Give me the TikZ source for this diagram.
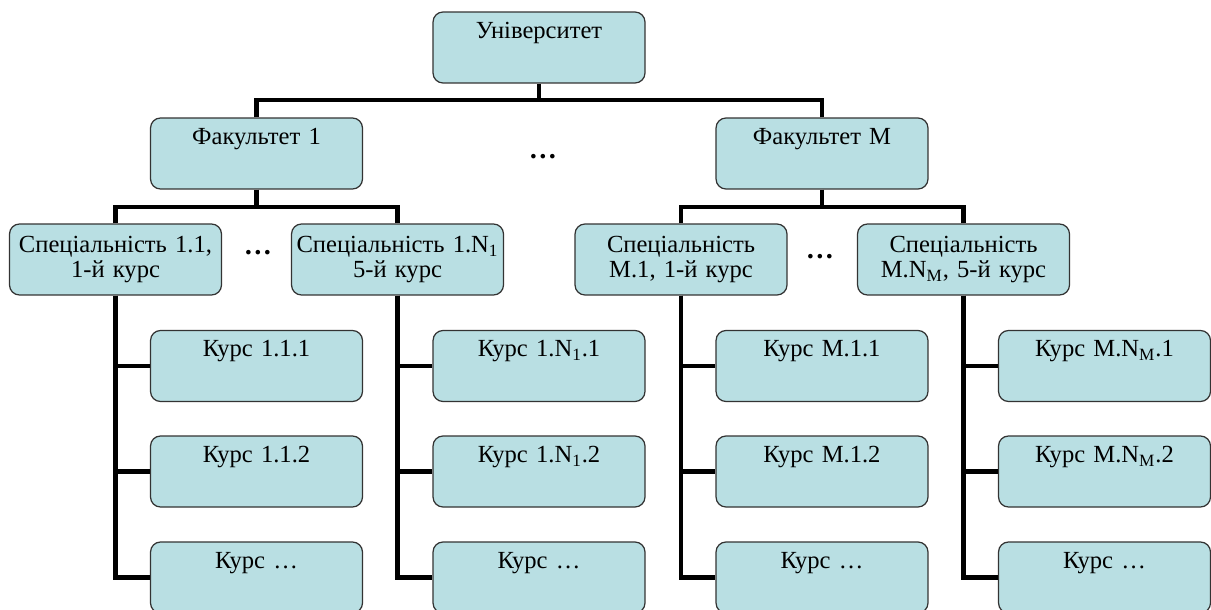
\documentclass[tikz,border=0pt]{standalone}
\usepackage{fontspec}
\setmainfont{Liberation Serif}
\definecolor{boxfill}{RGB}{185,223,227}
\tikzset{
  unit/.style={draw=black!80, fill=boxfill, rounded corners=0.2cm, line width=0.7pt,
    minimum width=4.24cm, minimum height=1.42cm, text width=4.16cm, inner sep=0pt,
    align=center, font=\fontsize{14}{14.5}\selectfont},
  gap/.style={font=\fontsize{16}{18}\selectfont\bfseries},
  link/.style={line width=2.6pt}
}
\begin{document}
\begin{tikzpicture}[x=0.02cm, y=-0.02cm]
      \useasboundingbox (0,0) rectangle (1211,609);
      \draw[every node/.style=unit]
        (539,47.5) node (uni){Університет\\[5pt]~}
        (256.5,153.5) node (f1){Факультет 1\\[5pt]~}
        (822,153.5) node (fM){Факультет M\\[5pt]~}
        (115.5,259.5) node (s11){Спеціальність 1.1,\\1-й курс}
        (397.5,259.5) node (s1N){Спеціальність 1.N\textsubscript{1}\\5-й курс}
        (681,259.5) node (sM1){Спеціальність\\M.1, 1-й курс}
        (963.5,259.5) node (sMN){Спеціальність\\M.N\textsubscript{M}, 5-й курс}
        (256.5,366) node (c111){Курс 1.1.1\\[5pt]~}
        (256.5,471.5) node (c112){Курс 1.1.2\\[5pt]~}
        (256.5,577.5) node (c11x){Курс …\\[5pt]~}
        (539,366) node (c1N1){Курс 1.N\textsubscript{1}.1\\[5pt]~}
        (539,471.5) node (c1N2){Курс 1.N\textsubscript{1}.2\\[5pt]~}
        (539,577.5) node (c1Nx){Курс …\\[5pt]~}
        (822,366) node (cM11){Курс M.1.1\\[5pt]~}
        (822,471.5) node (cM12){Курс M.1.2\\[5pt]~}
        (822,577.5) node (cM1x){Курс …\\[5pt]~}
        (1104.5,366) node (cMN1){Курс M.N\textsubscript{M}.1\\[5pt]~}
        (1104.5,471.5) node (cMN2){Курс M.N\textsubscript{M}.2\\[5pt]~}
        (1104.5,577.5) node (cMNx){Курс …\\[5pt]~};
      \draw
        (543,157) node[gap] (d0){…}
        (258,253) node[gap] (d1){…}
        (820,257) node[gap] (d2){…};
      \coordinate (b0) at (539,100);
      \coordinate (b1) at (256.5,207);
      \coordinate (bM) at (822,207);
      \begin{scope}[link]
        \draw (uni) to (b0);
        \draw (f1.north) |- (b0);
        \draw (fM.north) |- (b0);
        \draw (f1) to (b1);
        \draw (s11.north) |- (b1);
        \draw (s1N.north) |- (b1);
        \draw (fM) to (bM);
        \draw (sM1.north) |- (bM);
        \draw (sMN.north) |- (bM);
        \draw (s11.south) |- (c111.west);
        \draw (s11.south) |- (c112.west);
        \draw (s11.south) |- (c11x.west);
        \draw (s1N.south) |- (c1N1.west);
        \draw (s1N.south) |- (c1N2.west);
        \draw (s1N.south) |- (c1Nx.west);
        \draw (sM1.south) |- (cM11.west);
        \draw (sM1.south) |- (cM12.west);
        \draw (sM1.south) |- (cM1x.west);
        \draw (sMN.south) |- (cMN1.west);
        \draw (sMN.south) |- (cMN2.west);
        \draw (sMN.south) |- (cMNx.west);
      \end{scope}
    \end{tikzpicture}
\end{document}
